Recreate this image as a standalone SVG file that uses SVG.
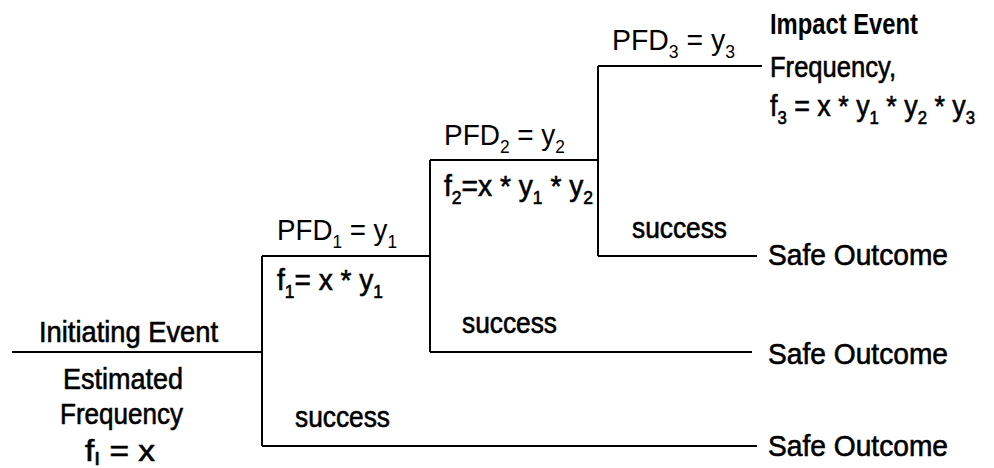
<svg xmlns="http://www.w3.org/2000/svg" width="994" height="468" viewBox="0 0 994 468">
<style>
text{font-family:"Liberation Sans",Arial,sans-serif;font-size:29px;fill:#000}
.m{stroke:#000;stroke-width:0.6}
.b{font-weight:bold}
.s{font-size:18px}
.ln{stroke:#000;stroke-width:2;fill:none}
</style>
<rect width="994" height="468" fill="#fff"/>
<g id="connectors">
<path class="ln" d="M12 352H262M262 256V446M262 256H430M262 446H757M430 160V352M430 160H598M430 352H752M598 66V256M598 66H762M598 256H757"/>
</g>
<g id="initiating">
<text class="m" x="39" y="342" textLength="179" lengthAdjust="spacingAndGlyphs">Initiating Event</text>
<text class="m" x="63" y="389" textLength="120" lengthAdjust="spacingAndGlyphs">Estimated</text>
<text class="m" x="60" y="424" textLength="123" lengthAdjust="spacingAndGlyphs">Frequency</text>
<text class="m" x="85" y="461" textLength="70" lengthAdjust="spacingAndGlyphs">f<tspan class="s" dy="4">I</tspan><tspan dy="-4"> = x</tspan></text>
</g>
<g id="layer1">
<text x="277" y="240" textLength="120" lengthAdjust="spacingAndGlyphs">PFD<tspan class="s" dy="8">1</tspan><tspan dy="-8"> = y</tspan><tspan class="s" dy="8">1</tspan></text>
<text class="m" x="277" y="290" textLength="106" lengthAdjust="spacingAndGlyphs">f<tspan class="s" dy="8">1</tspan><tspan dy="-8">= x * y</tspan><tspan class="s" dy="8">1</tspan></text>
<text class="m" x="295" y="427" textLength="95" lengthAdjust="spacingAndGlyphs">success</text>
</g>
<g id="layer2">
<text x="444" y="145" textLength="121" lengthAdjust="spacingAndGlyphs">PFD<tspan class="s" dy="8">2</tspan><tspan dy="-8"> = y</tspan><tspan class="s" dy="8">2</tspan></text>
<text class="m" x="444" y="196" textLength="149" lengthAdjust="spacingAndGlyphs">f<tspan class="s" dy="8">2</tspan><tspan dy="-8">=x * y</tspan><tspan class="s" dy="8">1</tspan><tspan dy="-8"> * y</tspan><tspan class="s" dy="8">2</tspan></text>
<text class="m" x="462" y="333" textLength="95" lengthAdjust="spacingAndGlyphs">success</text>
</g>
<g id="layer3">
<text x="612" y="50" textLength="123" lengthAdjust="spacingAndGlyphs">PFD<tspan class="s" dy="8">3</tspan><tspan dy="-8"> = y</tspan><tspan class="s" dy="8">3</tspan></text>
<text class="m" x="632" y="238" textLength="95" lengthAdjust="spacingAndGlyphs">success</text>
</g>
<g id="impact">
<text class="b" x="770" y="34" textLength="148" lengthAdjust="spacingAndGlyphs">Impact Event</text>
<text class="m" x="770" y="77" textLength="126" lengthAdjust="spacingAndGlyphs">Frequency,</text>
<text class="m" x="770" y="116" textLength="205" lengthAdjust="spacingAndGlyphs">f<tspan class="s" dy="8">3</tspan><tspan dy="-8"> = x * y</tspan><tspan class="s" dy="8">1</tspan><tspan dy="-8"> * y</tspan><tspan class="s" dy="8">2</tspan><tspan dy="-8"> * y</tspan><tspan class="s" dy="8">3</tspan></text>
</g>
<g id="safe1"><text class="m" x="768" y="265" textLength="180" lengthAdjust="spacingAndGlyphs">Safe Outcome</text></g>
<g id="safe2"><text class="m" x="768" y="364" textLength="180" lengthAdjust="spacingAndGlyphs">Safe Outcome</text></g>
<g id="safe3"><text class="m" x="768" y="456" textLength="180" lengthAdjust="spacingAndGlyphs">Safe Outcome</text></g>
</svg>
